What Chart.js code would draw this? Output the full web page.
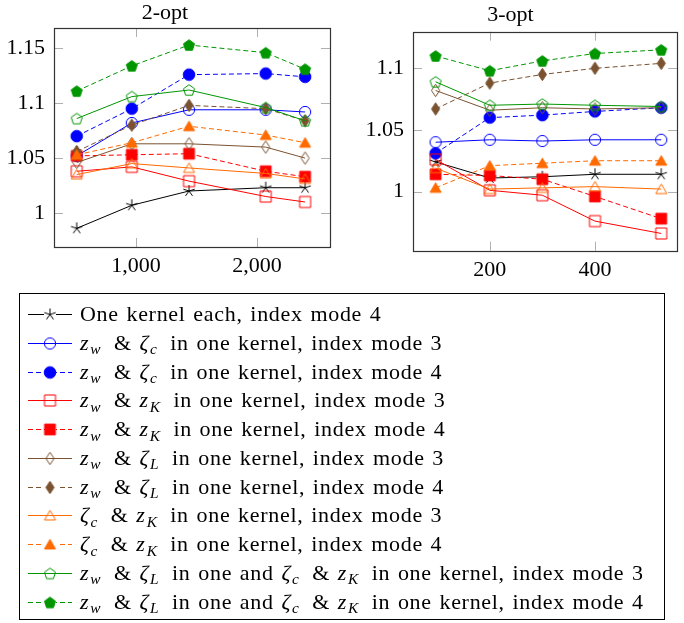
<!DOCTYPE html>
<html>
<head>
<meta charset="utf-8">
<script src="https://cdn.jsdelivr.net/npm/chart.js@4/dist/chart.umd.min.js"></script>
<style>
  body { margin: 0; background: #fff; width: 684px; height: 623px; position: relative; overflow: hidden;
         font-family: "Liberation Serif", serif; }
  #c1 { position: absolute; left: 0; top: 0; }
  #c2 { position: absolute; left: 340px; top: 0; }
  #legend { position: absolute; left: 19px; top: 293px; width: 646px; height: 327px;
            border: 1px solid #000; box-sizing: border-box; }
  .row { position: absolute; left: 0; height: 28px; display: flex; align-items: center; font-size: 22px;
         white-space: nowrap; letter-spacing: 0.7px; word-spacing: 1.5px; }
  .row canvas { margin-left: 8px; margin-right: 8px; }
  .row sub { font-size: 70%; vertical-align: -0.3em; line-height: 0; margin-left: 1px; margin-right: 5px; }
</style>
</head>
<body>
<canvas id="c1" width="340" height="285"></canvas>
<canvas id="c2" width="344" height="285"></canvas>
<div id="legend"></div>
<script>
// x positions (instance sizes)
const x2opt = [510, 965, 1438, 2072, 2397];
const x3opt = [97, 200, 300, 400, 526];

// tick values and labels
const xTicks2 = [1000, 2000], xTickLabels2 = ["1,000", "2,000"];
const yTicks2 = [1, 1.05, 1.1, 1.15], yTickLabels2 = ["1", "1.05", "1.1", "1.15"];
const xTicks3 = [200, 400], xTickLabels3 = ["200", "400"];
const yTicks3 = [1, 1.05, 1.1], yTickLabels3 = ["1", "1.05", "1.1"];

// 2-opt
const two_oneKernel_m4 = [0.986, 1.007, 1.020, 1.023, 1.023];
const two_wc_m3   = [1.052, 1.082, 1.094, 1.094, 1.092];
const two_wc_m4   = [1.070, 1.095, 1.126, 1.127, 1.124];
const two_wK_m3   = [1.038, 1.042, 1.029, 1.015, 1.010];
const two_wK_m4   = [1.052, 1.053, 1.054, 1.038, 1.033];
const two_wL_m3   = [1.046, 1.063, 1.063, 1.060, 1.050];
const two_wL_m4   = [1.056, 1.080, 1.098, 1.095, 1.084];
const two_cK_m3   = [1.035, 1.045, 1.041, 1.036, 1.031];
const two_cK_m4   = [1.053, 1.064, 1.079, 1.071, 1.064];
const two_both_m3 = [1.086, 1.106, 1.112, 1.096, 1.084];
const two_both_m4 = [1.111, 1.134, 1.153, 1.146, 1.131];

// 3-opt
const three_oneKernel_m4 = [1.024, 1.011, 1.012, 1.014, 1.014];
const three_wc_m3   = [1.040, 1.042, 1.041, 1.042, 1.042];
const three_wc_m4   = [1.031, 1.060, 1.062, 1.065, 1.068];
const three_wK_m3   = [1.026, 1.001, 0.997, 0.976, 0.966];
const three_wK_m4   = [1.014, 1.013, 1.010, 0.996, 0.978];
const three_wL_m3   = [1.082, 1.066, 1.068, 1.067, 1.068];
const three_wL_m4   = [1.067, 1.088, 1.095, 1.100, 1.104];
const three_cK_m3   = [1.019, 1.002, 1.003, 1.004, 1.002];
const three_cK_m4   = [1.003, 1.021, 1.023, 1.025, 1.025];
const three_both_m3 = [1.089, 1.070, 1.071, 1.070, 1.069];
const three_both_m4 = [1.110, 1.098, 1.106, 1.112, 1.115];

const zw = '<i>z</i><sub><i>w</i></sub>', zK = '<i>z</i><sub><i>K</i></sub>';
const zc = '<i>ζ</i><sub><i>c</i></sub>', zL = '<i>ζ</i><sub><i>L</i></sub>';
const seriesNames = [
  'One kernel each, index mode 4',
  zw + ' &amp; ' + zc + ' in one kernel, index mode 3',
  zw + ' &amp; ' + zc + ' in one kernel, index mode 4',
  zw + ' &amp; ' + zK + ' in one kernel, index mode 3',
  zw + ' &amp; ' + zK + ' in one kernel, index mode 4',
  zw + ' &amp; ' + zL + ' in one kernel, index mode 3',
  zw + ' &amp; ' + zL + ' in one kernel, index mode 4',
  zc + ' &amp; ' + zK + ' in one kernel, index mode 3',
  zc + ' &amp; ' + zK + ' in one kernel, index mode 4',
  zw + ' &amp; ' + zL + ' in one and ' + zc + ' &amp; ' + zK + ' in one kernel, index mode 3',
  zw + ' &amp; ' + zL + ' in one and ' + zc + ' &amp; ' + zK + ' in one kernel, index mode 4'
];

const twoOpt = [two_oneKernel_m4, two_wc_m3, two_wc_m4, two_wK_m3, two_wK_m4, two_wL_m3, two_wL_m4,
                two_cK_m3, two_cK_m4, two_both_m3, two_both_m4];
const threeOpt = [three_oneKernel_m4, three_wc_m3, three_wc_m4, three_wK_m3, three_wK_m4, three_wL_m3,
                  three_wL_m4, three_cK_m3, three_cK_m4, three_both_m3, three_both_m4];

const BLUE = '#0000ff', RED = '#ff0000', BROWN = '#7a5230', ORANGE = '#ff6a00', GREEN = '#009600';
const styles = [
  { color: '#000', mark: 'star', filled: false, dash: false, r: 6 },
  { color: BLUE, mark: 'circle', filled: false, dash: false, r: 5.6 },
  { color: BLUE, mark: 'circle', filled: true, dash: true, r: 5.8 },
  { color: RED, mark: 'square', filled: false, dash: false, r: 5.5 },
  { color: RED, mark: 'square', filled: true, dash: true, r: 5.4 },
  { color: BROWN, mark: 'diamond', filled: false, dash: false, r: 6.2 },
  { color: BROWN, mark: 'diamond', filled: true, dash: true, r: 6.2 },
  { color: ORANGE, mark: 'triangle', filled: false, dash: false, r: 6.4 },
  { color: ORANGE, mark: 'triangle', filled: true, dash: true, r: 6.4 },
  { color: GREEN, mark: 'pentagon', filled: false, dash: false, r: 5.8 },
  { color: GREEN, mark: 'pentagon', filled: true, dash: true, r: 5.8 }
];

function marker(st) {
  const r = st.r, s = Math.ceil(2 * r + 4);
  const c = document.createElement('canvas');
  c.width = c.height = s;
  const g = c.getContext('2d');
  g.translate(s / 2, s / 2);
  g.strokeStyle = st.color; g.fillStyle = st.color; g.lineWidth = 1;
  g.beginPath();
  if (st.mark === 'star') {
    for (let k = 0; k < 5; k++) {
      const a = -Math.PI / 2 + k * 2 * Math.PI / 5;
      g.moveTo(0, 0); g.lineTo(r * Math.cos(a), r * Math.sin(a));
    }
    g.stroke();
    return c;
  }
  if (st.mark === 'circle') g.arc(0, 0, r, 0, 2 * Math.PI);
  if (st.mark === 'square') g.rect(-r, -r, 2 * r, 2 * r);
  if (st.mark === 'diamond') { g.moveTo(0, -r); g.lineTo(r * 0.66, 0); g.lineTo(0, r); g.lineTo(-r * 0.66, 0); g.closePath(); }
  if (st.mark === 'triangle' || st.mark === 'pentagon') {
    const n = st.mark === 'triangle' ? 3 : 5;
    const dy = st.mark === 'triangle' ? r * 0.2 : 0.5;
    for (let k = 0; k < n; k++) {
      const a = -Math.PI / 2 + k * 2 * Math.PI / n;
      g.lineTo(r * Math.cos(a), r * Math.sin(a) + dy);
    }
    g.closePath();
  }
  if (st.filled) g.fill();
  g.stroke();
  return c;
}
const markers = styles.map(marker);

function makeDatasets(xs, ys) {
  return ys.map((vals, i) => ({
    data: vals.map((v, j) => ({ x: xs[j], y: v })),
    borderColor: styles[i].color,
    backgroundColor: styles[i].color,
    borderWidth: 1,
    borderDash: styles[i].dash ? [5, 3] : [],
    pointStyle: markers[i],
    pointRadius: 6,
    tension: 0,
    order: ys.length - i,
    clip: false
  }));
}

// frame with inward pgf-style ticks
const framePlugin = {
  id: 'frame',
  beforeDatasetsDraw(chart) {
    const { ctx, chartArea: a, scales } = chart;
    ctx.save();
    ctx.strokeStyle = '#b0b0b0'; ctx.lineWidth = 1;
    const L = 9;
    ctx.beginPath();
    scales.x.ticks.forEach(t => {
      const p = Math.round(scales.x.getPixelForValue(t.value)) + 0.5;
      ctx.moveTo(p, a.top); ctx.lineTo(p, a.top + L);
      ctx.moveTo(p, a.bottom); ctx.lineTo(p, a.bottom - L);
    });
    scales.y.ticks.forEach(t => {
      const p = Math.round(scales.y.getPixelForValue(t.value)) + 0.5;
      ctx.moveTo(a.left, p); ctx.lineTo(a.left + L, p);
      ctx.moveTo(a.right, p); ctx.lineTo(a.right - L, p);
    });
    ctx.stroke();
    ctx.restore();
  },
  afterDatasetsDraw(chart) {
    const { ctx, chartArea: a } = chart;
    ctx.save();
    ctx.strokeStyle = '#333'; ctx.lineWidth = 1.2;
    ctx.strokeRect(Math.round(a.left) + 0.5, Math.round(a.top) + 0.5,
                   Math.round(a.right - a.left), Math.round(a.bottom - a.top));
    ctx.restore();
  }
};

function makeChart(id, title, xs, ys, cfg) {
  const font = { family: '"Liberation Serif", serif', size: 22, weight: 'normal' };
  return new Chart(document.getElementById(id), {
    type: 'line',
    data: { datasets: makeDatasets(xs, ys) },
    plugins: [framePlugin],
    options: {
      responsive: false,
      animation: false,
      layout: { padding: { left: 0, right: cfg.padRight, top: 0, bottom: 0 } },
      plugins: {
        legend: { display: false },
        tooltip: { enabled: false },
        title: { display: true, text: title, color: '#000',
                 font: Object.assign({ lineHeight: 1 }, font), padding: cfg.titlePad }
      },
      scales: {
        x: {
          type: 'linear', min: cfg.xMin, max: cfg.xMax,
          grid: { display: false, drawTicks: false }, border: { display: false },
          afterBuildTicks: s => { s.ticks = cfg.xTicks.map(v => ({ value: v })); },
          afterFit: s => { s.height = cfg.xAxisH; },
          ticks: { color: '#000', font: font, padding: 6, maxRotation: 0,
                   callback: v => cfg.xLabels[cfg.xTicks.indexOf(v)] }
        },
        y: {
          type: 'linear', min: cfg.yMin, max: cfg.yMax,
          grid: { display: false, drawTicks: false }, border: { display: false },
          afterBuildTicks: s => { s.ticks = cfg.yTicks.map(v => ({ value: v })); },
          afterFit: s => { s.width = cfg.yAxisW; },
          ticks: { color: '#000', font: font, padding: 9,
                   callback: v => cfg.yLabels[cfg.yTicks.indexOf(v)] }
        }
      }
    }
  });
}

makeChart('c1', '2-opt', x2opt, twoOpt, {
  xMin: 322, xMax: 2603, yMin: 0.969, yMax: 1.1685,
  xTicks: xTicks2, xLabels: xTickLabels2, yTicks: yTicks2, yLabels: yTickLabels2,
  padRight: 10, yAxisW: 54, xAxisH: 38, titlePad: { top: 2, bottom: 4 }
});
makeChart('c2', '3-opt', x3opt, threeOpt, {
  xMin: 54, xMax: 556, yMin: 0.952, yMax: 1.1297,
  xTicks: xTicks3, xLabels: xTickLabels3, yTicks: yTicks3, yLabels: yTickLabels3,
  padRight: 3, yAxisW: 73, xAxisH: 34.3, titlePad: { top: 4, bottom: 5.7 }
});

// legend
const legend = document.getElementById('legend');
seriesNames.forEach((name, i) => {
  const row = document.createElement('div');
  row.className = 'row';
  row.style.top = (6 + i * 28.75) + 'px';
  const c = document.createElement('canvas');
  c.width = 44; c.height = 20;
  const g = c.getContext('2d');
  g.strokeStyle = styles[i].color; g.lineWidth = 1;
  g.setLineDash(styles[i].dash ? [5, 3] : []);
  g.beginPath(); g.moveTo(0, 10.5); g.lineTo(44, 10.5); g.stroke();
  const m = markers[i];
  if (styles[i].filled || styles[i].mark === 'star') {
    g.clearRect(22 - m.width / 2 + 2, 10, m.width - 4, 1);
  }
  g.drawImage(m, 22 - m.width / 2, 10.5 - m.height / 2);
  row.appendChild(c);
  const t = document.createElement('span');
  t.innerHTML = name;
  row.appendChild(t);
  legend.appendChild(row);
});
</script>
</body>
</html>
